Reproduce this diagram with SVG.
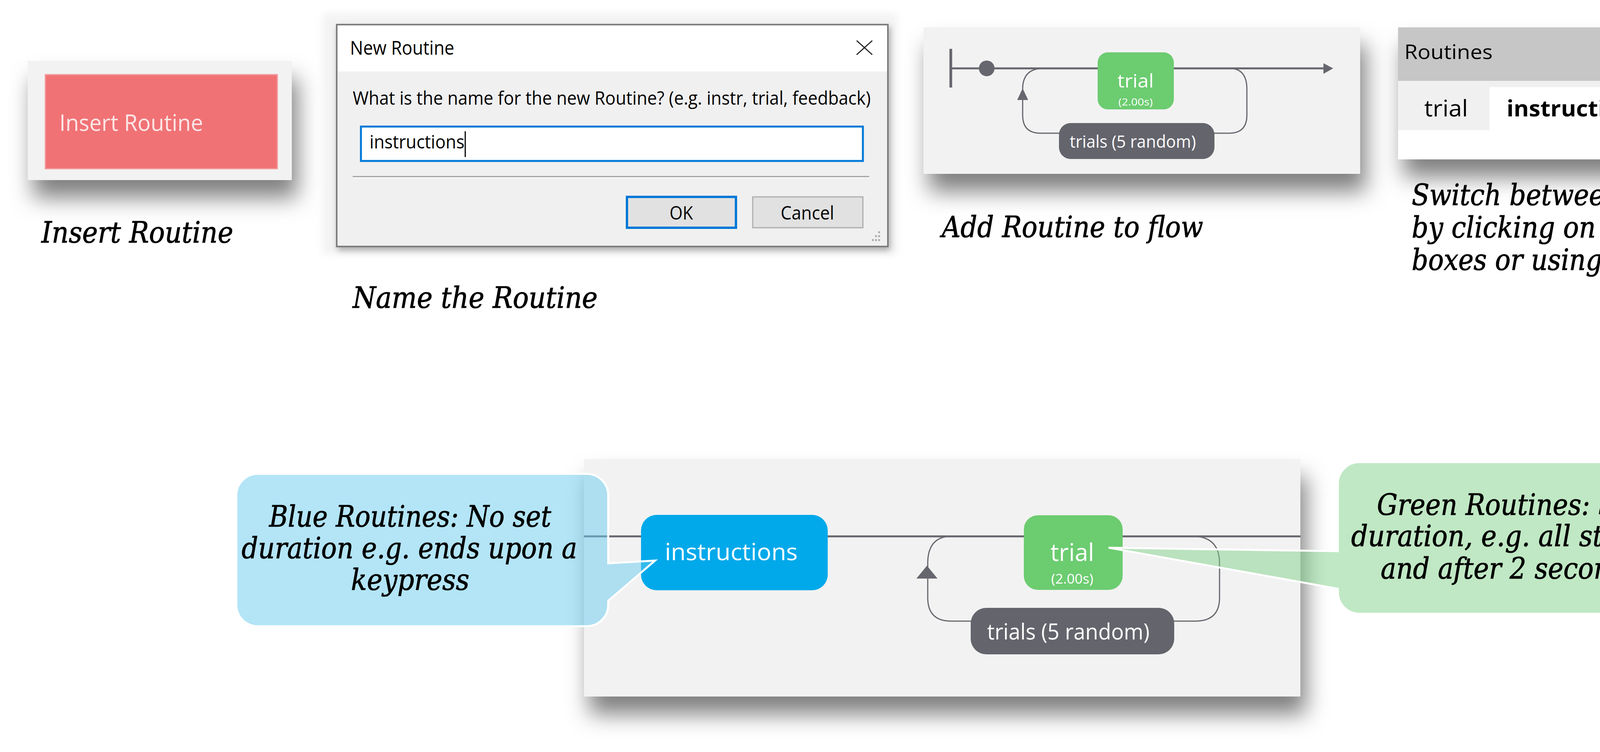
<svg xmlns="http://www.w3.org/2000/svg" width="4797" height="1925" viewBox="0 0 4797 1925">
<style>
.cap{font-family:"DejaVu Serif","Liberation Serif",serif;font-style:italic;font-size:74px;fill:#000;stroke:#000;stroke-width:1.2px;}
.ui{font-family:"Open Sans","Noto Sans","Liberation Sans",sans-serif;}
.node{font-family:"Open Sans","Noto Sans","Liberation Sans",sans-serif;fill:#ffffff;text-anchor:middle;}
.flow{fill:none;stroke:#66666e;stroke-linecap:butt;}
.panel{fill:#f2f2f2;}
</style>
<defs>
<filter id="shadow" x="-20%" y="-20%" width="150%" height="180%">
<feDropShadow dx="14" dy="45" stdDeviation="28" flood-color="#000" flood-opacity="0.5"/>
</filter>
<filter id="soft" x="-10%" y="-10%" width="120%" height="120%">
<feGaussianBlur stdDeviation="10"/>
</filter>
<filter id="dlgshadow" x="-10%" y="-10%" width="120%" height="130%">
<feDropShadow dx="4" dy="8" stdDeviation="8" flood-color="#000" flood-opacity="0.3"/>
</filter>
</defs>
<rect width="4797" height="1925" fill="#ffffff"/>

<!-- Insert Routine button -->
<g id="insert-routine">
<rect x="71" y="156" width="676" height="305" class="panel" filter="url(#shadow)"/>
<rect x="116" y="191" width="594" height="241" fill="#f07275" stroke="#f39c9d" stroke-width="3"/>
<text x="152" y="335" class="ui" font-size="58" fill="#fde6e6" textLength="368" lengthAdjust="spacingAndGlyphs">Insert Routine</text>
</g>
<g id="caption-insert">
<text x="106" y="621" class="cap" textLength="491" lengthAdjust="spacingAndGlyphs">Insert Routine</text>
</g>

<!-- New Routine dialog -->
<g id="new-routine-dialog">
<rect x="826" y="34" width="1471" height="617" fill="#f3f3f3" filter="url(#soft)"/>
<rect x="862" y="63" width="1411" height="568" fill="#f0f0f0" stroke="#7d7d7d" stroke-width="4" filter="url(#dlgshadow)"/>
<rect x="864" y="65" width="1407" height="118" fill="#ffffff"/>
<text x="896" y="140" class="ui" font-size="50" fill="#000" textLength="267" lengthAdjust="spacingAndGlyphs">New Routine</text>
<path d="M2193 104 L2233 140 M2233 104 L2193 140" stroke="#222" stroke-width="3" fill="none"/>
<text x="903" y="268" class="ui" font-size="48" fill="#000" textLength="1326" lengthAdjust="spacingAndGlyphs">What is the name for the new Routine? (e.g. instr, trial, feedback)</text>
<rect x="924" y="324" width="1285" height="88" fill="#ffffff" stroke="#0078d7" stroke-width="5"/>
<text x="946" y="380" class="ui" font-size="48" fill="#000" textLength="243" lengthAdjust="spacingAndGlyphs">instructions</text>
<line x1="1191" y1="336" x2="1191" y2="402" stroke="#000" stroke-width="3"/>
<line x1="903" y1="452" x2="2225" y2="452" stroke="#a0a0a0" stroke-width="3"/>
<line x1="903" y1="455" x2="2225" y2="455" stroke="#ffffff" stroke-width="2"/>
<rect x="1605" y="504" width="279" height="79" fill="#e1e1e1" stroke="#0078d7" stroke-width="6"/>
<text x="1744" y="562" class="ui" font-size="48" fill="#000" text-anchor="middle" textLength="60" lengthAdjust="spacingAndGlyphs">OK</text>
<rect x="1927" y="504" width="282" height="79" fill="#e1e1e1" stroke="#adadad" stroke-width="3"/>
<text x="2067" y="562" class="ui" font-size="48" fill="#000" text-anchor="middle" textLength="137" lengthAdjust="spacingAndGlyphs">Cancel</text>
<g fill="#b0b0b0">
<rect x="2248" y="592" width="5" height="5"/>
<rect x="2240" y="602" width="5" height="5"/><rect x="2248" y="602" width="5" height="5"/>
<rect x="2232" y="612" width="5" height="5"/><rect x="2240" y="612" width="5" height="5"/><rect x="2248" y="612" width="5" height="5"/>
</g>
</g>
<g id="caption-name">
<text x="903" y="788" class="cap" textLength="627" lengthAdjust="spacingAndGlyphs">Name the Routine</text>
</g>

<!-- Top flow panel -->
<g id="flow-panel-top">
<rect x="2364" y="70" width="1118" height="375" class="panel" filter="url(#shadow)"/>
</g>
<g id="connectors">
<line x1="2434" y1="125" x2="2434" y2="224" class="flow" stroke-width="7"/>
<line x1="2434" y1="175" x2="3392" y2="175" class="flow" stroke-width="5"/>
<polygon points="3388,162 3413,175 3388,189" fill="#66666e"/>
<circle cx="2526" cy="175" r="20" fill="#66666e"/>
<path d="M2666 175 Q2618 178 2618 228 V295 Q2618 341 2664 341 H3146 Q3192 341 3192 295 V228 Q3192 178 3152 175" class="flow" stroke-width="3"/>
<polygon points="2618,226 2604,256 2632,256" fill="#66666e"/>
</g>
<g id="node-trial-top">
<rect x="2810" y="134" width="195" height="146" rx="26" fill="#6ccc70"/>
<text x="2907" y="224" class="node" font-size="48" textLength="93" lengthAdjust="spacingAndGlyphs">trial</text>
<text x="2907" y="270" class="node" font-size="26" textLength="88" lengthAdjust="spacingAndGlyphs">(2.00s)</text>
</g>
<g id="node-trials-top">
<rect x="2711" y="315" width="398" height="92" rx="30" fill="#64646c"/>
<text x="2900" y="378" class="node" font-size="44" textLength="323" lengthAdjust="spacingAndGlyphs">trials (5 random)</text>
</g>
<g id="caption-flow">
<text x="2411" y="607" class="cap" textLength="669" lengthAdjust="spacingAndGlyphs">Add Routine to flow</text>
</g>

<!-- Routines tab panel -->
<g id="routines-panel">
<rect x="3579" y="70" width="1075" height="338" fill="#ffffff" filter="url(#shadow)"/>
<rect x="3579" y="70" width="1075" height="137" fill="#c6c6c6"/>
<rect x="3579" y="207" width="1075" height="126" fill="#f0f0f0"/>
<rect x="3813" y="223" width="552" height="110" fill="#ffffff"/>
<text x="3595" y="151" class="ui" font-size="52" fill="#000" textLength="226" lengthAdjust="spacingAndGlyphs">Routines</text>
<text x="3646" y="298" class="ui" font-size="58" fill="#000" textLength="112" lengthAdjust="spacingAndGlyphs">trial</text>
<text x="3857" y="298" class="ui" font-size="58" font-weight="bold" fill="#000" textLength="357" lengthAdjust="spacingAndGlyphs">instructions</text>
<path d="M4286 272 L4330 308 M4330 272 L4286 308" stroke="#777" stroke-width="6" fill="none"/>
</g>
<g id="caption-switch">
<text x="3614" y="525" class="cap" textLength="852" lengthAdjust="spacingAndGlyphs">Switch between Routines</text>
<text x="3614" y="608" class="cap" textLength="876" lengthAdjust="spacingAndGlyphs">by clicking on the colored</text>
<text x="3614" y="691" class="cap" textLength="780" lengthAdjust="spacingAndGlyphs">boxes or using the tabs</text>
</g>

<!-- Bottom flow panel -->
<g id="flow-panel-bottom">
<rect x="1495" y="1175" width="1834" height="608" class="panel" filter="url(#shadow)"/>
</g>
<g id="connectors-bottom">
<line x1="1495" y1="1373" x2="3329" y2="1373" class="flow" stroke-width="5"/>
<path d="M2428 1373 Q2375 1378 2375 1442 V1530 Q2375 1590 2435 1590 H3060 Q3122 1590 3122 1530 V1442 Q3122 1378 3062 1373" class="flow" stroke-width="3"/>
<polygon points="2373,1448 2346,1481 2400,1481" fill="#66666e"/>
</g>
<g id="node-instructions">
<rect x="1641" y="1318" width="478" height="193" rx="40" fill="#02a9ea"/>
<text x="1872" y="1434" class="node" font-size="60" textLength="340" lengthAdjust="spacingAndGlyphs">instructions</text>
</g>
<g id="node-trial">
<rect x="2621" y="1319" width="253" height="191" rx="36" fill="#6ccc70"/>
<text x="2745" y="1436" class="node" font-size="62" textLength="112" lengthAdjust="spacingAndGlyphs">trial</text>
<text x="2745" y="1494" class="node" font-size="34" textLength="108" lengthAdjust="spacingAndGlyphs">(2.00s)</text>
</g>
<g id="node-trials">
<rect x="2485" y="1556" width="521" height="119" rx="40" fill="#64646c"/>
<text x="2735" y="1637" class="node" font-size="56" textLength="416" lengthAdjust="spacingAndGlyphs">trials (5 random)</text>
</g>

<!-- Callouts -->
<g id="callout-blue">
<path d="M660 1213 H1502 A55 55 0 0 1 1557 1268 V1442 L1677 1435 L1557 1538 V1548 A55 55 0 0 1 1502 1603 H660 A55 55 0 0 1 605 1548 V1268 A55 55 0 0 1 660 1213 Z" fill="#67cbef" fill-opacity="0.5" stroke="#ffffff" stroke-width="5" stroke-linejoin="miter"/>
<text x="1050" y="1348" class="cap" text-anchor="middle" textLength="722" lengthAdjust="spacingAndGlyphs">Blue Routines: No set</text>
<text x="1048" y="1429" class="cap" text-anchor="middle" textLength="859" lengthAdjust="spacingAndGlyphs">duration e.g. ends upon a</text>
<text x="1050" y="1510" class="cap" text-anchor="middle" textLength="303" lengthAdjust="spacingAndGlyphs">keypress</text>
</g>
<g id="callout-green">
<path d="M3480 1183 H4319 A55 55 0 0 1 4374 1238 V1516 A55 55 0 0 1 4319 1571 H3480 A55 55 0 0 1 3425 1516 V1507 L2838 1402 L3425 1411 V1238 A55 55 0 0 1 3480 1183 Z" fill="#81d189" fill-opacity="0.5" stroke="#ffffff" stroke-width="5" stroke-linejoin="miter"/>
<text x="3864" y="1318" class="cap" text-anchor="middle" textLength="678" lengthAdjust="spacingAndGlyphs">Green Routines: Set</text>
<text x="3867" y="1398" class="cap" text-anchor="middle" textLength="816" lengthAdjust="spacingAndGlyphs">duration, e.g. all stimuli</text>
<text x="3867" y="1481" class="cap" text-anchor="middle" textLength="665" lengthAdjust="spacingAndGlyphs">and after 2 seconds</text>
</g>
</svg>
